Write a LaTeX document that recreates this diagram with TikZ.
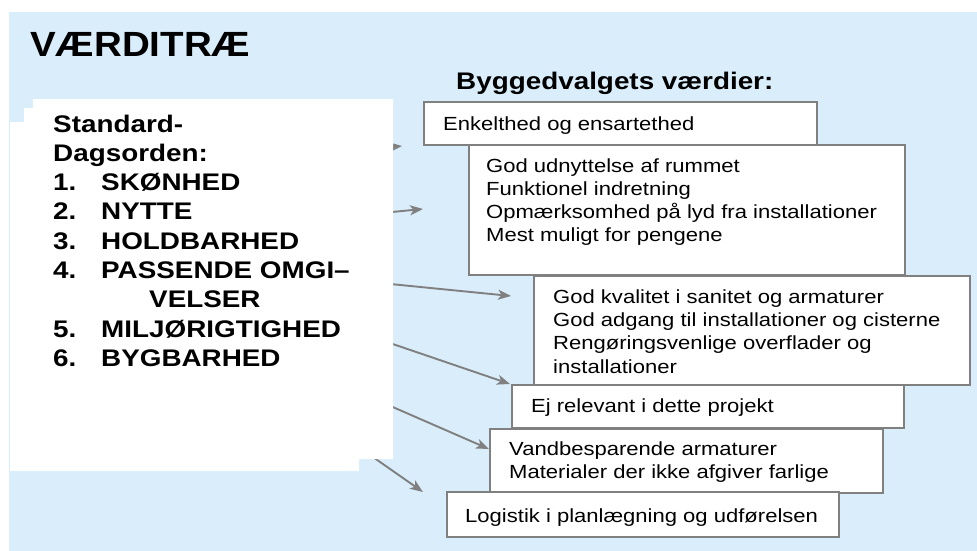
\documentclass[tikz,border=0pt]{standalone}
\usepackage{fontspec}
\usetikzlibrary{arrows.meta}
\newfontfamily\wide[FakeStretch=1.16]{Liberation Sans}
\newfontfamily\titlefont[FakeStretch=1.1]{Liberation Sans}
\definecolor{skyback}{RGB}{217,237,250}
\definecolor{edgegray}{RGB}{128,128,128}
\tikzset{
  valuebox/.style={draw=edgegray, line width=1.5pt, fill=white, anchor=north west, inner sep=0pt},
  valuetext/.style={anchor=base west, inner sep=0pt, align=left, font=\wide\fontsize{19}{23}\selectfont},
  linkarrow/.style={draw=edgegray, line width=1.9pt, -{Stealth[length=13pt,width=10pt,inset=3.5pt]}},
}
\begin{document}
\begin{tikzpicture}[x=1pt,y=-1pt]
\useasboundingbox (0,0) rectangle (977,551);
% background
\fill[skyback] (9,12) rectangle (977,551);

% title and heading
\node[anchor=base west, inner sep=0pt, font=\titlefont\bfseries\fontsize{35}{40}\selectfont] (title) at (30,57) {VÆRDITRÆ};
\node[anchor=base west, inner sep=0pt, font=\wide\bfseries\fontsize{24}{28}\selectfont] (heading) at (456,89) {Byggedvalgets værdier:};

% value boxes
\node[valuebox, minimum width=393pt, minimum height=43pt] (b1) at (423,101) {};
\node[valuebox, minimum width=436pt, minimum height=130pt] (b2) at (468,144) {};
\node[valuebox, minimum width=436pt, minimum height=109pt] (b3) at (533,275) {};
\node[valuebox, minimum width=392pt, minimum height=43pt] (b4) at (511,384) {};
\node[valuebox, minimum width=393pt, minimum height=64pt] (b5) at (489,428) {};
\node[valuebox, minimum width=392pt, minimum height=45pt] (b6) at (446,491) {};

% texts are anchored at the baseline of their last line
\node[valuetext] (t1) at (443,130) {Enkelthed og ensartethed};
\node[valuetext] (t2) at (486,241.7) {God udnyttelse af rummet\\Funktionel indretning\\Opmærksomhed på lyd fra installationer\\Mest muligt for pengene};
\node[valuetext, font=\wide\fontsize{19}{23.3}\selectfont] (t3) at (553,373) {God kvalitet i sanitet og armaturer\\God adgang til installationer og cisterne\\Rengøringsvenlige overflader og\\installationer};
\node[valuetext] (t4) at (531,412) {Ej relevant i dette projekt};
\node[valuetext] (t5) at (509,478) {Vandbesparende armaturer\\Materialer der ikke afgiver farlige};
\node[valuetext] (t6) at (465,522) {Logistik i planlægning og udførelsen};

% arrow tails sit behind the agenda panel
\coordinate (s1) at (340,152);  \coordinate (e1) at (402,146);
\coordinate (s2) at (340,217);  \coordinate (e2) at (423,209);
\coordinate (s3) at (340,279);  \coordinate (e3) at (511,296);
\coordinate (s4) at (340,326);  \coordinate (e4) at (510,384);
\coordinate (s5) at (340,384);  \coordinate (e5) at (489,449);
\coordinate (s6) at (340,434);  \coordinate (e6) at (423,492);
\foreach \i in {1,...,6} \draw[linkarrow] (s\i) -- (e\i);

% agenda panel
\fill[white] (33,99) -- (393,99) -- (393,459) -- (359,459) -- (359,471)
  -- (10,471) -- (10,122) -- (24,122) -- (24,108) -- (33,108) -- cycle;
\node[anchor=base west, inner sep=0pt, align=left, font=\wide\bfseries\fontsize{24}{29.3}\selectfont] (agenda) at (53,366.4)
  {Standard-\\Dagsorden:\\
   \makebox[48pt][l]{1.}SKØNHED\\
   \makebox[48pt][l]{2.}NYTTE\\
   \makebox[48pt][l]{3.}HOLDBARHED\\
   \makebox[48pt][l]{4.}PASSENDE OMGI–\\
   \hspace*{96pt}VELSER\\
   \makebox[48pt][l]{5.}MILJØRIGTIGHED\\
   \makebox[48pt][l]{6.}BYGBARHED};
\end{tikzpicture}
\end{document}
